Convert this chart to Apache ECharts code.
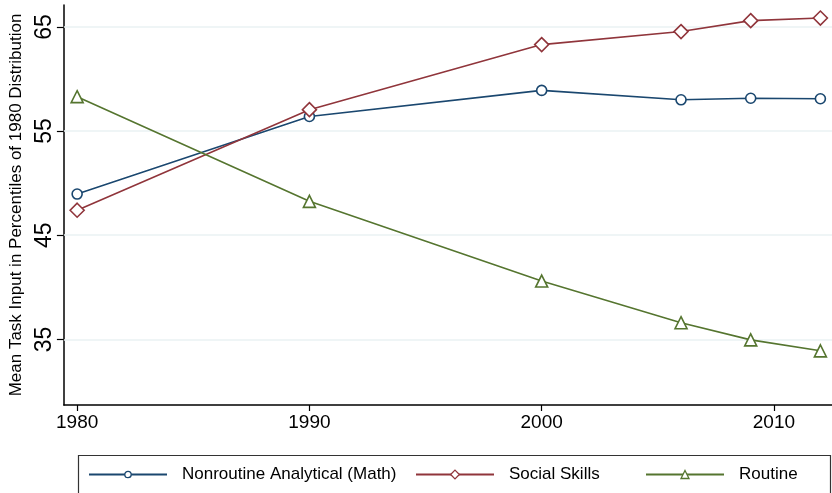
<!DOCTYPE html>
<html>
<head>
<meta charset="utf-8">
<script src="https://cdn.jsdelivr.net/npm/echarts@6/dist/echarts.min.js"></script>
<style>html,body{margin:0;padding:0;background:#fff;}#c{width:832px;height:493px;}</style>
</head>
<body>
<div id="c"></div>
<script>
const years = [1980, 1990, 2000, 2006, 2009, 2012];
const analytical = [48.95, 56.4, 58.9, 58.0, 58.15, 58.1];
const social = [47.4, 57.05, 63.3, 64.55, 65.6, 65.85];
const routine = [58.3, 48.25, 40.6, 36.6, 34.95, 33.9];
const seriesNames = ['Nonroutine Analytical (Math)', 'Social Skills', 'Routine'];
const yTicks = [35, 45, 55, 65];
const xTicks = [1980, 1990, 2000, 2010];
const yTitle = 'Mean Task Input in Percentiles of 1980 Distribution';

const colors = ['#1a476f', '#90353b', '#55752f'];
const symbols = ['circle', 'diamond', 'triangle'];
const symSizes = [10, 14, 12];
const legendSymSizes = [8, 11, 10];
const allData = [analytical, social, routine];
const font = '"Liberation Sans", Arial, Helvetica, sans-serif';

const chart = echarts.init(document.getElementById('c'), null, {renderer: 'canvas'});

const series = allData.map((d, i) => ({
  name: seriesNames[i],
  type: 'line',
  data: years.map((y, j) => [y, d[j]]),
  symbol: symbols[i],
  symbolSize: symSizes[i],
  showAllSymbol: true,
  z: 3,
  lineStyle: {color: colors[i], width: 1.6},
  itemStyle: {color: '#fff', borderColor: colors[i], borderWidth: 1.6},
  emphasis: {disabled: true},
  animation: false
}));
series[0].markLine = {
  silent: true,
  symbol: 'none',
  z: 1,
  label: {show: false},
  lineStyle: {color: '#eaf2f3', width: 1.5, type: 'solid'},
  data: yTicks.map(v => ({yAxis: v}))
};

const legendLefts = [83, 410, 640];
const legends = seriesNames.map((n, i) => ({
  data: [{name: n, itemStyle: {color: '#fff', borderColor: colors[i], borderWidth: 1.3}}],
  left: legendLefts[i],
  top: 461,
  itemWidth: 78,
  itemHeight: legendSymSizes[i],
  selectedMode: false,
  textStyle: {fontFamily: font, fontSize: 17, color: '#000', padding: [0, 0, 0, 10]}
}));

chart.setOption({
  animation: false,
  backgroundColor: '#fff',
  grid: {left: 62, right: 0, top: 5, bottom: 88, containLabel: false},
  xAxis: {
    type: 'value',
    min: 1979.43,
    max: 2012.5,
    axisLine: {show: true, lineStyle: {color: '#000', width: 1.5}},
    axisTick: {show: true, length: 6, customValues: xTicks, lineStyle: {color: '#000', width: 1.2}},
    axisLabel: {customValues: xTicks, formatter: v => String(v), fontFamily: font, fontSize: 19, color: '#000', margin: 8},
    splitLine: {show: false}
  },
  yAxis: {
    type: 'value',
    min: 28.7,
    max: 67.1,
    name: yTitle,
    nameLocation: 'middle',
    nameGap: 38,
    nameTextStyle: {fontFamily: font, fontSize: 17, color: '#000'},
    axisLine: {show: true, lineStyle: {color: '#000', width: 1.5}},
    axisTick: {show: true, length: 7, customValues: yTicks, lineStyle: {color: '#000', width: 1.2}},
    axisLabel: {customValues: yTicks, formatter: v => String(v), rotate: 90, fontFamily: font, fontSize: 23, color: '#000', margin: 8},
    splitLine: {show: false}
  },
  legend: legends,
  graphic: [{
    type: 'rect',
    shape: {x: 78.5, y: 455.5, width: 752, height: 50},
    style: {fill: 'none', stroke: '#333', lineWidth: 1.2},
    silent: true
  }],
  series: series
});
</script>
</body>
</html>
